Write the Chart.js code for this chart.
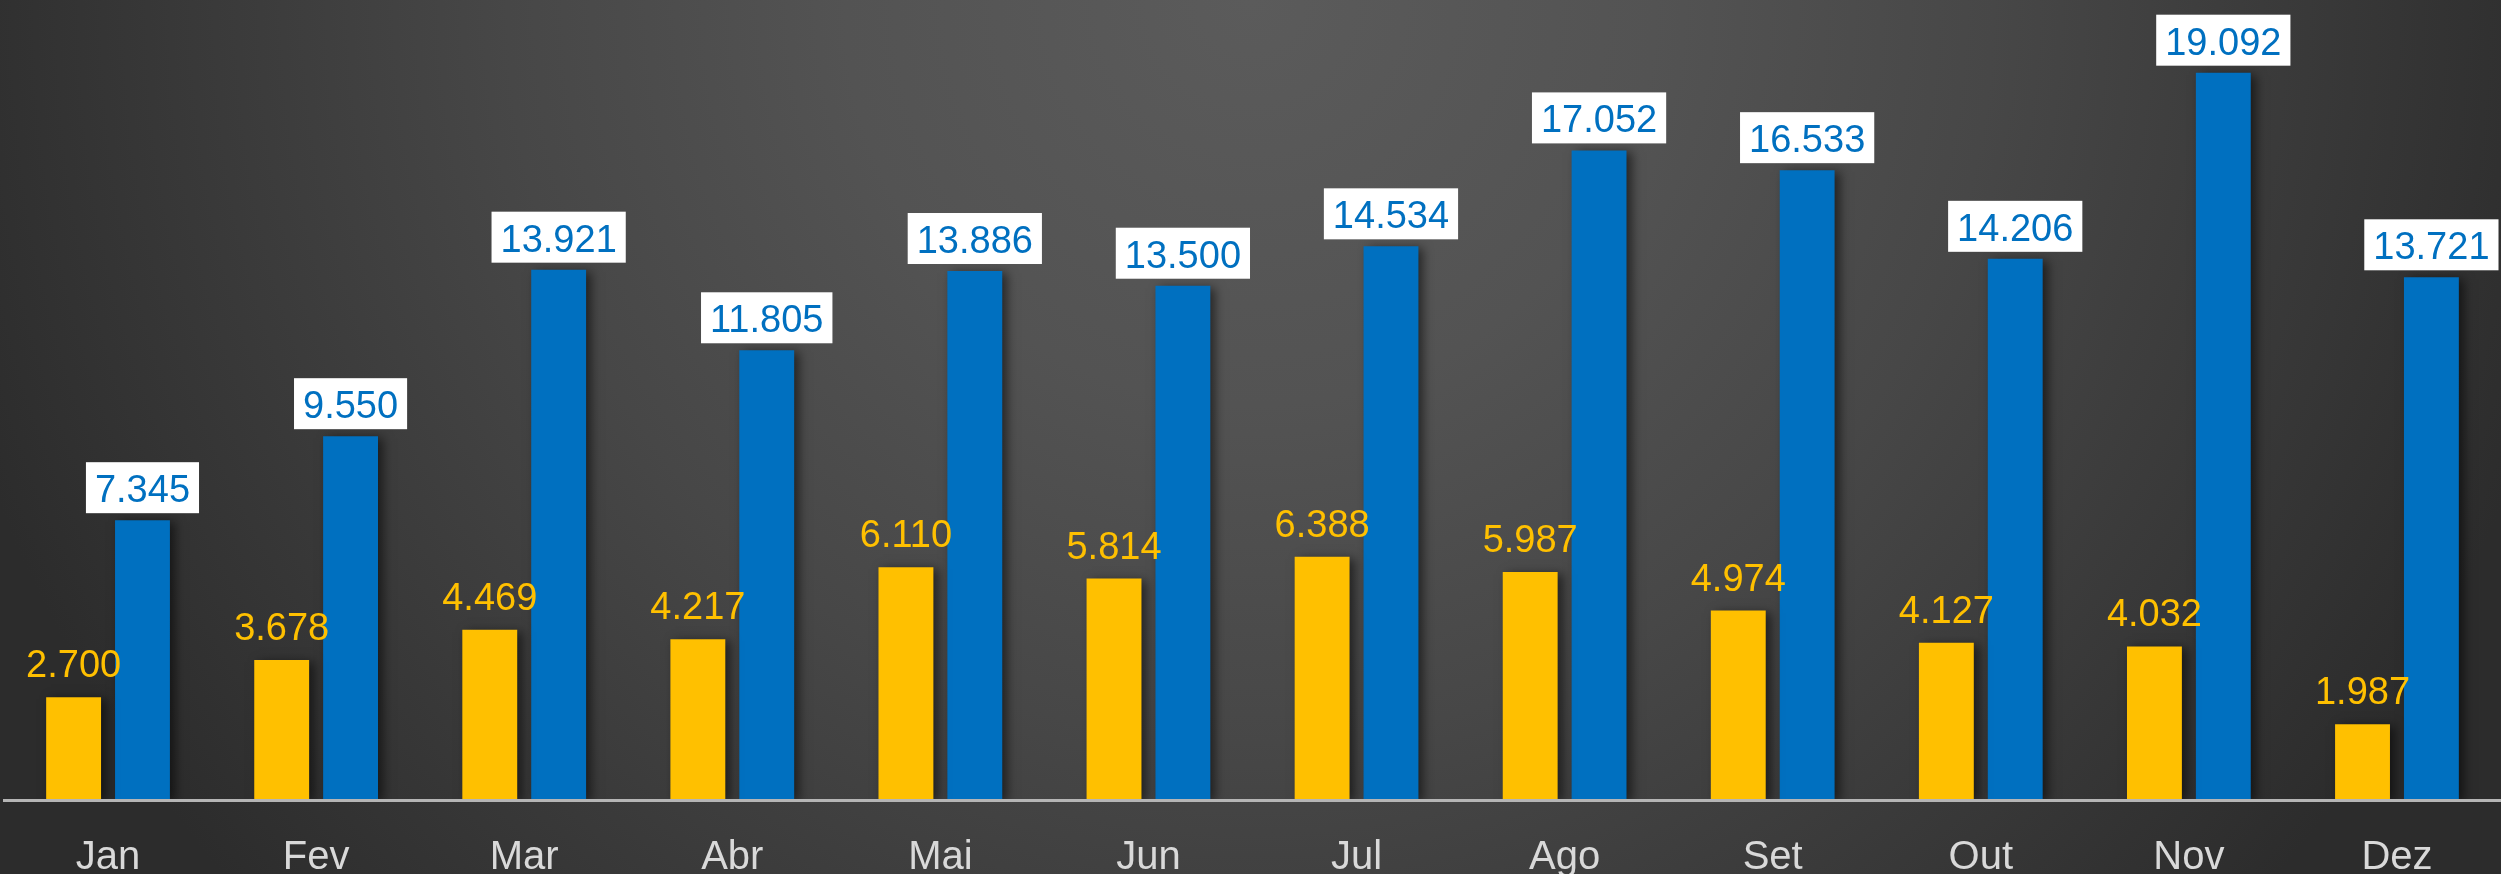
<!DOCTYPE html>
<html>
<head>
<meta charset="utf-8">
<script src="https://cdn.jsdelivr.net/npm/chart.js@4.4.0/dist/chart.umd.min.js"></script>
<style>
  html, body { margin: 0; padding: 0; background: #2b2b2b; }
  #wrap { width: 2501px; height: 874px; position: relative; }
</style>
</head>
<body>
<div id="wrap"><canvas id="chart"></canvas></div>
<script>
const months = ['Jan', 'Fev', 'Mar', 'Abr', 'Mai', 'Jun', 'Jul', 'Ago', 'Set', 'Out', 'Nov', 'Dez'];
const yellowValues = [2700, 3678, 4469, 4217, 6110, 5814, 6388, 5987, 4974, 4127, 4032, 1987];
const blueValues = [7345, 9550, 13921, 11805, 13886, 13500, 14534, 17052, 16533, 14206, 19092, 13721];

const yellow = '#FFC000';
const blue = '#0070C0';

// 7345 -> "7.345"
function fmt(v) {
  return String(v).replace(/\B(?=(\d{3})+(?!\d))/g, '.');
}

const backgroundPlugin = {
  id: 'bg',
  beforeDraw(chart) {
    const { ctx, width, height } = chart;
    ctx.save();
    const g = ctx.createRadialGradient(width / 2, 0, 0, width / 2, 0, 1350);
    g.addColorStop(0, '#5b5b5b');
    g.addColorStop(0.3, '#535353');
    g.addColorStop(0.55, '#474747');
    g.addColorStop(1, '#2c2c2c');
    ctx.fillStyle = g;
    ctx.fillRect(0, 0, width, height);
    ctx.restore();
  }
};

// soft drop shadow to the right of the bars
const shadowPlugin = {
  id: 'barShadow',
  beforeDatasetDraw(chart) {
    const ctx = chart.ctx;
    ctx.save();
    ctx.shadowColor = 'rgba(0, 0, 0, 0.55)';
    ctx.shadowBlur = 10;
    ctx.shadowOffsetX = 5;
    ctx.shadowOffsetY = 2;
  },
  afterDatasetDraw(chart) {
    chart.ctx.restore();
  }
};

const valueLabelsPlugin = {
  id: 'valueLabels',
  afterDatasetsDraw(chart) {
    const ctx = chart.ctx;
    ctx.save();
    ctx.font = '38px "Liberation Sans", Arial, sans-serif';
    ctx.textAlign = 'center';
    ctx.textBaseline = 'alphabetic';

    chart.getDatasetMeta(0).data.forEach((bar, i) => {
      ctx.fillStyle = yellow;
      ctx.fillText(fmt(yellowValues[i]), bar.x, bar.y - 20);
    });

    chart.getDatasetMeta(1).data.forEach((bar, i) => {
      const txt = fmt(blueValues[i]);
      const w = ctx.measureText(txt).width + 18;
      ctx.fillStyle = '#ffffff';
      ctx.fillRect(bar.x - w / 2, bar.y - 58, w, 51);
      ctx.fillStyle = blue;
      ctx.fillText(txt, bar.x, bar.y - 18);
    });
    ctx.restore();
  }
};

const config = {
  type: 'bar',
  data: {
    labels: months,
    datasets: [
      {
        label: 'A',
        data: yellowValues,
        backgroundColor: yellow,
        borderWidth: 0,
        categoryPercentage: 0.662,
        barPercentage: 0.797,
      },
      {
        label: 'B',
        data: blueValues,
        backgroundColor: blue,
        borderWidth: 0,
        categoryPercentage: 0.662,
        barPercentage: 0.797,
      }
    ]
  },
  options: {
    responsive: true,
    maintainAspectRatio: false,
    animation: false,
    layout: {
      padding: { top: 0, left: 4, right: -5, bottom: -42 }
    },
    scales: {
      x: {
        grid: { display: false, drawTicks: false },
        border: { display: true, color: '#b5b5b5', width: 3, z: 1 },
        ticks: {
          color: '#d9d9d9',
          padding: 34,
          font: { family: '"Liberation Sans Narrow", "Liberation Sans", Arial, sans-serif', size: 40 }
        }
      },
      y: {
        display: false,
        min: 0,
        max: 21000
      }
    },
    plugins: {
      legend: { display: false },
      tooltip: { enabled: false }
    }
  },
  plugins: [backgroundPlugin, shadowPlugin, valueLabelsPlugin]
};

new Chart(document.getElementById('chart').getContext('2d'), config);
</script>
</body>
</html>
